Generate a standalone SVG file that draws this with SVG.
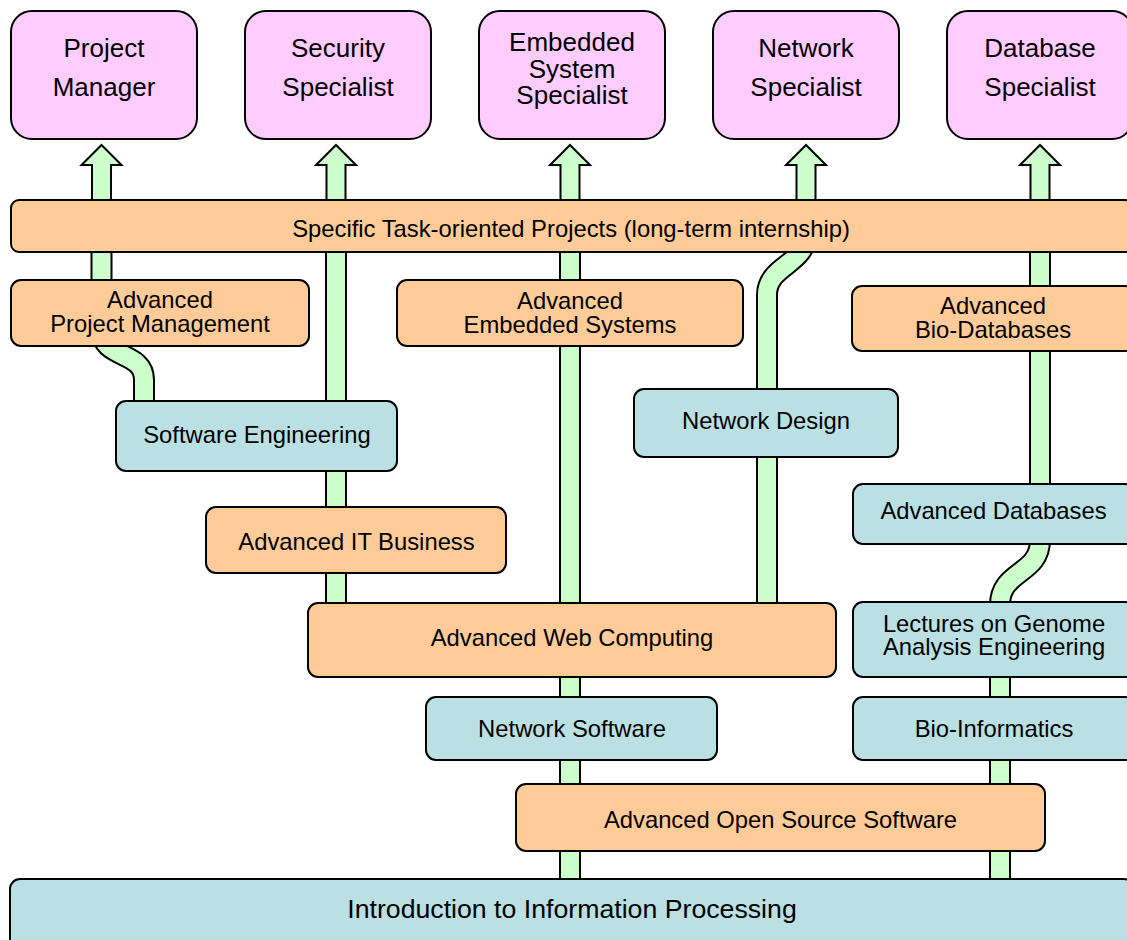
<svg xmlns="http://www.w3.org/2000/svg" xmlns:xlink="http://www.w3.org/1999/xlink" width="1127" height="940" viewBox="0 0 1127 940">
<style>
.box{stroke:#000;stroke-width:2}
.pink{fill:#FFCCFF}
.orange{fill:#FFCC99}
.blue{fill:#BBE0E3}
.t{font-family:"Liberation Sans",Arial,Helvetica,sans-serif;font-size:23.8px;text-anchor:middle;fill:#000}
.big{font-size:26px}
.huge{font-size:26.7px}
.outer{fill:none;stroke:#000;stroke-width:22}
.inner{fill:none;stroke:#CCFFCC;stroke-width:18}
.arrow{fill:#CCFFCC;stroke:#000;stroke-width:2;stroke-linejoin:miter}
</style>
<defs>
<path id="p1" d="M101.5 240 V330 C101.5 360 144 350 144 380 V420"/>
<path id="p2" d="M336 240 V620"/>
<path id="p3" d="M570 240 V890"/>
<path id="p4" d="M806 226 V235 C806 265 767 265 767 295 V620"/>
<path id="p5" d="M1040 240 V540 C1040 575 1000 570 1000 605 V890"/>
</defs>
<rect width="1127" height="940" fill="#FFFFFF"/>
<g id="connectors">
<use xlink:href="#p1" class="outer"/><use xlink:href="#p1" class="inner"/>
<use xlink:href="#p2" class="outer"/><use xlink:href="#p2" class="inner"/>
<use xlink:href="#p3" class="outer"/><use xlink:href="#p3" class="inner"/>
<use xlink:href="#p4" class="outer"/><use xlink:href="#p4" class="inner"/>
<use xlink:href="#p5" class="outer"/><use xlink:href="#p5" class="inner"/>
<polygon class="arrow" points="92,205 92,165 81.5,165 101.5,145 121.5,165 111,165 111,205"/>
<polygon class="arrow" points="326.5,205 326.5,165 316,165 336,145 356,165 345.5,165 345.5,205"/>
<polygon class="arrow" points="560.5,205 560.5,165 550,165 570,145 590,165 579.5,165 579.5,205"/>
<polygon class="arrow" points="796.5,205 796.5,165 786,165 806,145 826,165 815.5,165 815.5,205"/>
<polygon class="arrow" points="1030.5,205 1030.5,165 1020,165 1040,145 1060,165 1049.5,165 1049.5,205"/>
</g>
<g id="project-manager"><rect class="box pink" x="11" y="11" width="186" height="128" rx="21"/>
<text class="t big" x="104" y="57">Project</text><text class="t big" x="104" y="95.5">Manager</text></g>
<g id="security-specialist"><rect class="box pink" x="245" y="11" width="186" height="128" rx="21"/>
<text class="t big" x="338" y="57">Security</text><text class="t big" x="338" y="95.5">Specialist</text></g>
<g id="embedded-system-specialist"><rect class="box pink" x="479" y="11" width="186" height="128" rx="21"/>
<text class="t big" x="572" y="50.5">Embedded</text><text class="t big" x="572" y="77.5">System</text><text class="t big" x="572" y="104.3">Specialist</text></g>
<g id="network-specialist"><rect class="box pink" x="713" y="11" width="186" height="128" rx="21"/>
<text class="t big" x="806" y="57">Network</text><text class="t big" x="806" y="95.5">Specialist</text></g>
<g id="database-specialist"><rect class="box pink" x="947" y="11" width="186" height="128" rx="21"/>
<text class="t big" x="1040" y="57">Database</text><text class="t big" x="1040" y="95.5">Specialist</text></g>
<g id="specific-projects"><rect class="box orange" x="11" y="200" width="1122" height="52" rx="8"/>
<text class="t" x="571" y="237.3">Specific Task-oriented Projects (long-term internship)</text></g>
<g id="advanced-project-management"><rect class="box orange" x="11" y="280" width="298" height="66" rx="10"/>
<text class="t" x="160" y="307.7">Advanced</text><text class="t" x="160" y="331.7">Project Management</text></g>
<g id="advanced-embedded-systems"><rect class="box orange" x="397" y="280" width="346" height="66" rx="10"/>
<text class="t" x="570" y="308.7">Advanced</text><text class="t" x="570" y="332.7">Embedded Systems</text></g>
<g id="advanced-bio-databases"><rect class="box orange" x="852" y="286" width="283" height="65" rx="10"/>
<text class="t" x="993" y="314.3">Advanced</text><text class="t" x="993" y="338.3">Bio-Databases</text></g>
<g id="network-design"><rect class="box blue" x="634" y="389" width="264" height="68" rx="10"/>
<text class="t" x="766" y="428.5">Network Design</text></g>
<g id="software-engineering"><rect class="box blue" x="116" y="401" width="281" height="70" rx="10"/>
<text class="t" x="257" y="443.3">Software Engineering</text></g>
<g id="advanced-databases"><rect class="box blue" x="853" y="484" width="282" height="60" rx="10"/>
<text class="t" x="993.5" y="519.3">Advanced Databases</text></g>
<g id="advanced-it-business"><rect class="box orange" x="206" y="507" width="300" height="66" rx="10"/>
<text class="t" x="356.5" y="550">Advanced IT Business</text></g>
<g id="advanced-web-computing"><rect class="box orange" x="308" y="603" width="528" height="74" rx="10"/>
<text class="t" x="572" y="646">Advanced Web Computing</text></g>
<g id="lectures-genome"><rect class="box blue" x="853" y="602" width="282" height="75" rx="10"/>
<text class="t" x="994" y="631.7">Lectures on Genome</text><text class="t" x="994" y="655">Analysis Engineering</text></g>
<g id="network-software"><rect class="box blue" x="426" y="697" width="291" height="63" rx="10"/>
<text class="t" x="572" y="736.5">Network Software</text></g>
<g id="bio-informatics"><rect class="box blue" x="853" y="697" width="282" height="63" rx="10"/>
<text class="t" x="994" y="736.5">Bio-Informatics</text></g>
<g id="advanced-open-source-software"><rect class="box orange" x="516" y="784" width="529" height="67" rx="10"/>
<text class="t" x="780.5" y="828.3">Advanced Open Source Software</text></g>
<g id="intro-information-processing"><rect class="box blue" x="10" y="879" width="1124" height="80" rx="10"/>
<text class="t huge" x="572" y="917.7">Introduction to Information Processing</text></g>
</svg>
